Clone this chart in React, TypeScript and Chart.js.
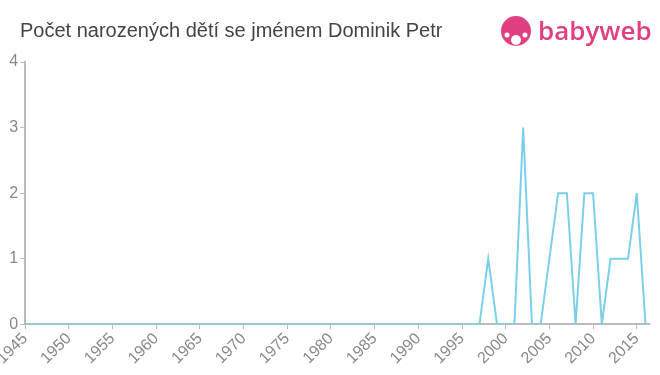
import React, { useEffect, useRef } from "react";
import { Chart, registerables } from "chart.js";

Chart.register(...registerables);

const years: number[] = [];
for (let y = 1945; y <= 2016; y++) years.push(y);

const nonZero: Record<number, number> = {
  1998: 1,
  2002: 3,
  2005: 1,
  2006: 2,
  2007: 2,
  2009: 2,
  2010: 2,
  2012: 1,
  2013: 1,
  2014: 1,
  2015: 2,
};
const counts: number[] = years.map((y) => nonZero[y] ?? 0);

const yTicks = [0, 1, 2, 3, 4];
const titleText = "Počet narozených dětí se jménem Dominik Petr";
const logoText = "babyweb";

const headerPlugin = {
  id: "header",
  afterDraw(chart: any) {
    const ctx = chart.ctx;
    ctx.save();
    ctx.fillStyle = "#444";
    ctx.font = "20px 'Liberation Sans', Arial, sans-serif";
    ctx.textBaseline = "middle";
    ctx.textAlign = "left";
    ctx.fillText(titleText, 20, 31);
    // logo icon
    const pink = "#e0407f";
    ctx.fillStyle = pink;
    ctx.beginPath();
    ctx.arc(516, 31, 15, 0, Math.PI * 2);
    ctx.fill();
    ctx.fillStyle = "#fff";
    ctx.beginPath();
    ctx.arc(516, 40, 5, 0, Math.PI * 2);
    ctx.fill();
    ctx.beginPath();
    ctx.arc(507, 35, 2.5, 0, Math.PI * 2);
    ctx.fill();
    ctx.beginPath();
    ctx.arc(525, 35, 2.5, 0, Math.PI * 2);
    ctx.fill();
    ctx.fillStyle = pink;
    ctx.font = "600 26px 'Open Sans', 'DejaVu Sans', sans-serif";
    ctx.fillText(logoText, 538, 33);
    ctx.restore();
  },
};

export default function App() {
  const ref = useRef<HTMLCanvasElement | null>(null);
  useEffect(() => {
    if (!ref.current) return;
    const chart = new Chart(ref.current, {
      type: "line",
      data: {
        datasets: [
          {
            data: years.map((y, i) => ({ x: y, y: counts[i] })),
            borderColor: "#7ccfea",
            borderWidth: 2,
            pointRadius: 0,
            tension: 0,
            fill: false,
          },
        ],
      },
      options: {
        animation: false,
        responsive: false,
        maintainAspectRatio: false,
        layout: { padding: { top: 62, left: 2, right: 11, bottom: 7 } },
        plugins: { legend: { display: false }, tooltip: { enabled: false } },
        scales: {
          x: {
            type: "linear",
            min: 1945,
            max: 2016.4,
            grid: { drawOnChartArea: false, color: "#bbb", tickLength: 5 },
            border: { color: "#bbb", width: 2 },
            ticks: {
              stepSize: 5,
              includeBounds: false,
              color: "#888",
              font: { size: 16, family: "'Liberation Sans', Arial, sans-serif" },
              maxRotation: 45,
              minRotation: 45,
              padding: 0,
              callback: (v: any) => String(v),
            },
            afterBuildTicks: (axis: any) => {
              axis.ticks = axis.ticks.filter((t: any) => t.value % 5 === 0);
            },
          },
          y: {
            min: 0,
            max: 4,
            afterBuildTicks: (axis: any) => {
              axis.ticks = yTicks.map((v) => ({ value: v }));
            },
            grid: { drawOnChartArea: false, color: "#bbb", tickLength: 5 },
            border: { color: "#bbb", width: 2 },
            ticks: {
              color: "#888",
              font: { size: 16, family: "'Liberation Sans', Arial, sans-serif" },
              padding: 2,
            },
          },
        },
      },
      plugins: [headerPlugin],
    });
    return () => chart.destroy();
  }, []);
  return (
    <div style={{ position: "fixed", left: 0, top: 0, width: 660, height: 375, background: "#fff" }}>
      <canvas ref={ref} width={660} height={375} style={{ width: 660, height: 375 }} />
    </div>
  );
}
